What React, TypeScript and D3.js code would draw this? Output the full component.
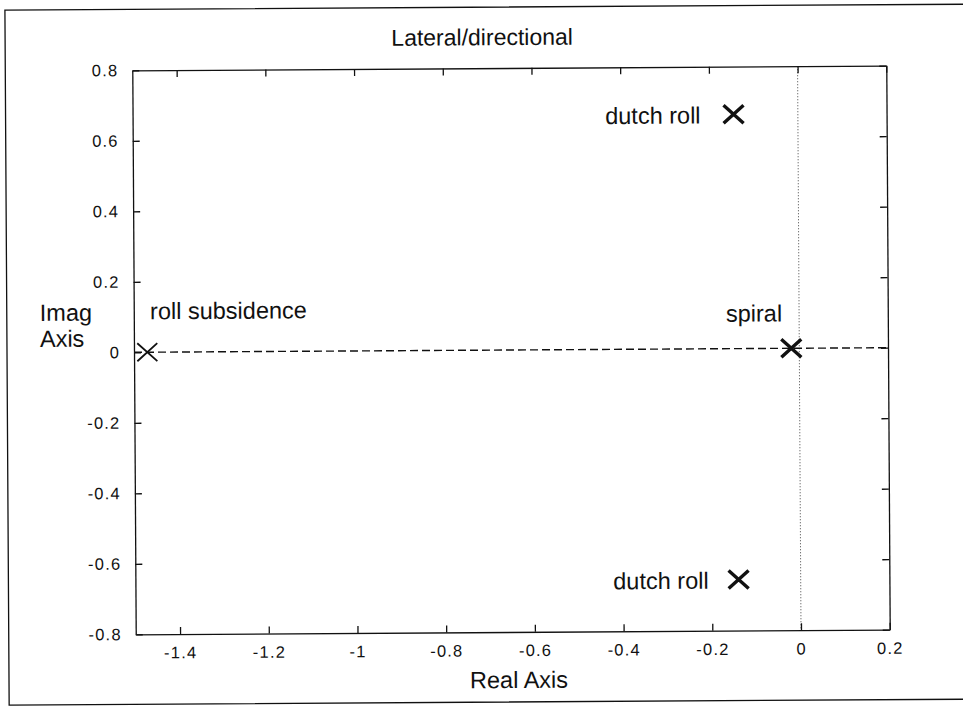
import React, { useEffect, useRef } from "react";
import * as d3 from "d3";

// poles of the lateral/directional modes (real, imag)
const poleRe = [-1.47, -0.145, -0.14, -0.018];
const poleIm = [0, 0.665, -0.655, 0];
const poleNames = ["roll subsidence", "dutch roll", "dutch roll", "spiral"];

const xTicks = [-1.4, -1.2, -1, -0.8, -0.6, -0.4, -0.2, 0, 0.2];
const yTicks = [-0.8, -0.6, -0.4, -0.2, 0, 0.2, 0.4, 0.6, 0.8];
const xDomain: [number, number] = [-1.5, 0.2];
const yDomain: [number, number] = [-0.8, 0.8];

const titleText = "Lateral/directional";
const xLabel = "Real Axis";
const yLabel = ["Imag", "Axis"];

const FONT = "'Liberation Sans', Arial, Helvetica, sans-serif";

export default function App() {
  const ref = useRef<SVGSVGElement>(null);

  useEffect(() => {
    const root = d3.select(ref.current);
    root.selectAll("*").remove();

    root.append("rect").attr("width", 963).attr("height", 707).attr("fill", "#fff");

    // the scanned page is a little bit rotated
    const svg = root.append("g").attr("transform", "rotate(-0.35, 511, 350)");

    // plot box in page pixels
    const left = 134, right = 888, top = 68, bottom = 632;
    const x = d3.scaleLinear().domain(xDomain).range([left, right]);
    const y = d3.scaleLinear().domain(yDomain).range([bottom, top]);

    // outer frame of the page (open on the right)
    svg.append("path")
      .attr("d", "M975,7 L7,7 L7,702 L975,702")
      .attr("fill", "none")
      .attr("stroke", "#111")
      .attr("stroke-width", 1.3);

    // dotted imaginary axis line at Re = 0
    svg.append("line")
      .attr("x1", x(0)).attr("x2", x(0))
      .attr("y1", top).attr("y2", bottom)
      .attr("stroke", "#444")
      .attr("stroke-width", 1)
      .attr("stroke-dasharray", "1,2");

    // dashed real axis line at Im = 0
    svg.append("line")
      .attr("x1", left).attr("x2", right)
      .attr("y1", y(0)).attr("y2", y(0))
      .attr("stroke", "#111")
      .attr("stroke-width", 1.4)
      .attr("stroke-dasharray", "8,4");

    // axes, ticks pointing inwards like matlab
    const fmt = (d: d3.NumberValue) => String(+d);
    const gx = svg.append("g")
      .attr("transform", `translate(0,${bottom})`)
      .call(d3.axisBottom(x).tickValues(xTicks).tickFormat(fmt).tickSizeInner(-7).tickSizeOuter(0).tickPadding(12.5));
    const gy = svg.append("g")
      .attr("transform", `translate(${left},0)`)
      .call(d3.axisLeft(y).tickValues(yTicks).tickFormat(fmt).tickSizeInner(-7).tickSizeOuter(0).tickPadding(14));
    svg.append("g")
      .attr("transform", `translate(0,${top})`)
      .call(d3.axisTop(x).tickValues(xTicks).tickFormat(() => "").tickSizeInner(-7).tickSizeOuter(0));
    svg.append("g")
      .attr("transform", `translate(${right},0)`)
      .call(d3.axisRight(y).tickValues(yTicks).tickFormat(() => "").tickSizeInner(-7).tickSizeOuter(0));

    svg.selectAll(".domain, .tick line")
      .attr("stroke", "#111")
      .attr("stroke-width", 1.3);

    [gx, gy].forEach((g) =>
      g.selectAll("text")
        .attr("fill", "#111")
        .style("font-family", FONT)
        .style("font-size", "16.5px")
        .style("letter-spacing", "1.2px")
    );

    // pole markers
    const marks = svg.append("g");
    poleRe.forEach((re, i) => {
      const cx = x(re), cy = y(poleIm[i]);
      marks.append("path")
        .attr("d", `M${cx - 10},${cy - 9}L${cx + 10},${cy + 9}M${cx - 10},${cy + 9}L${cx + 10},${cy - 9}`)
        .attr("stroke", "#111")
        .attr("stroke-width", i === 0 ? 1.8 : 3.4)
        .attr("fill", "none");
    });

    // annotations next to each pole
    const labelPlace = [
      { dx: 3, dy: -33, anchor: "start" },
      { dx: -33, dy: 9, anchor: "end" },
      { dx: -30, dy: 9, anchor: "end" },
      { dx: -9, dy: -27, anchor: "end" },
    ];
    poleNames.forEach((name, i) => {
      svg.append("text")
        .attr("x", x(poleRe[i]) + labelPlace[i].dx)
        .attr("y", y(poleIm[i]) + labelPlace[i].dy)
        .attr("text-anchor", labelPlace[i].anchor)
        .style("font-family", FONT)
        .style("font-size", "23.5px")
        .attr("fill", "#111")
        .text(name);
    });

    // title and axis labels
    svg.append("text")
      .attr("x", 484).attr("y", 45)
      .attr("text-anchor", "middle")
      .style("font-family", FONT)
      .style("font-size", "23px")
      .attr("fill", "#111")
      .text(titleText);

    svg.append("text")
      .attr("x", 517).attr("y", 688)
      .attr("text-anchor", "middle")
      .style("font-family", FONT)
      .style("font-size", "23.5px")
      .attr("fill", "#111")
      .text(xLabel);

    yLabel.forEach((t, i) => {
      svg.append("text")
        .attr("x", 40).attr("y", 318 + i * 26)
        .style("font-family", FONT)
        .style("font-size", "23.5px")
        .attr("fill", "#111")
        .text(t);
    });
  }, []);

  return (
    <svg
      ref={ref}
      width={963}
      height={707}
      style={{ position: "absolute", left: 0, top: 0, display: "block" }}
    />
  );
}
